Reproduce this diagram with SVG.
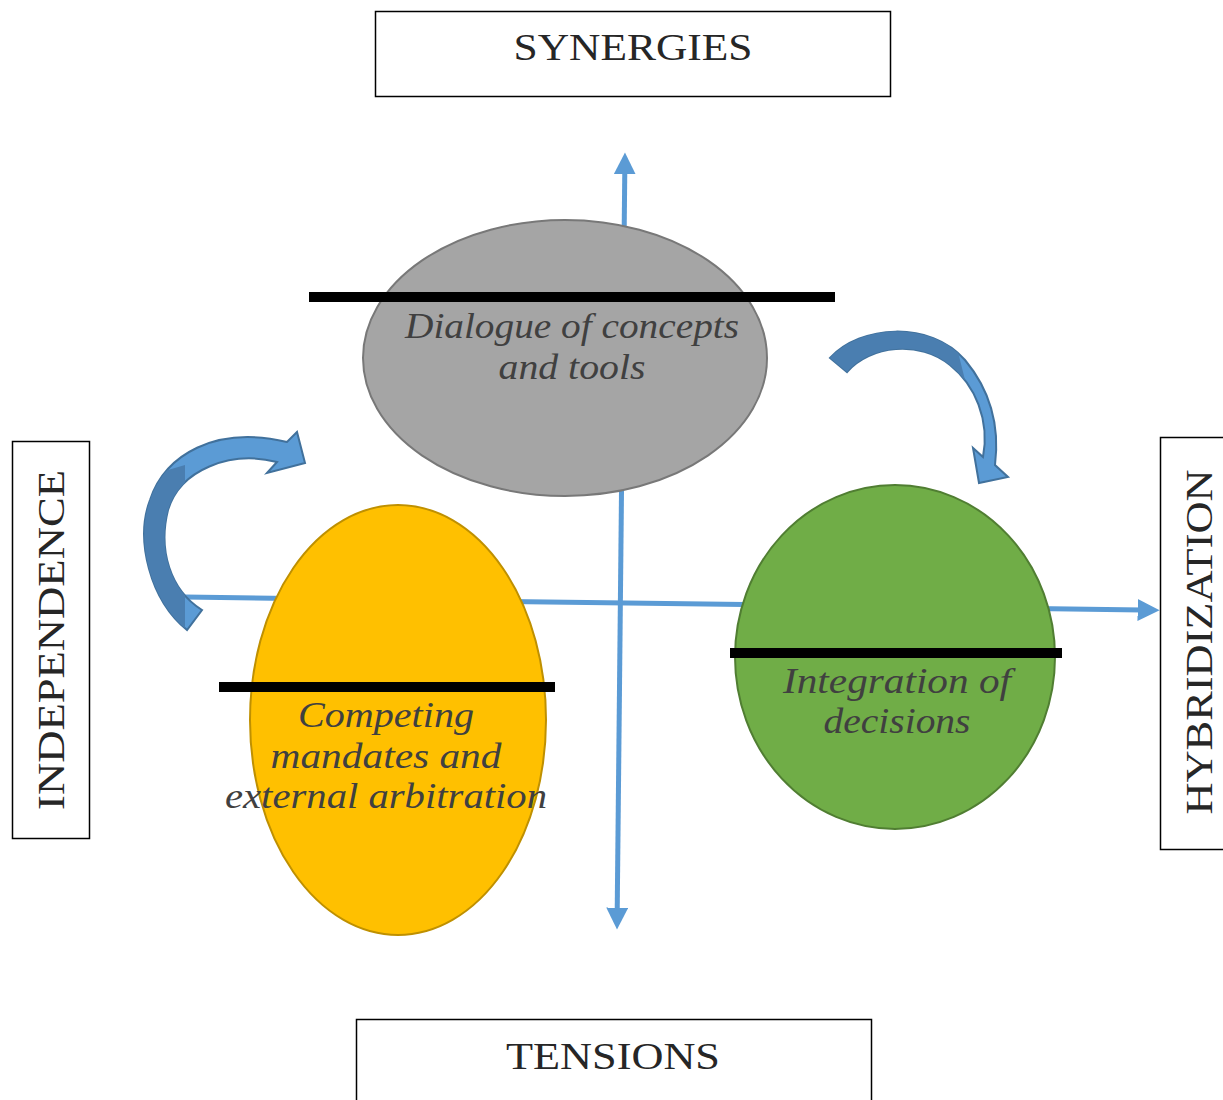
<svg xmlns="http://www.w3.org/2000/svg" width="1223" height="1100" viewBox="0 0 1223 1100">
<style>
.box{fill:#fff;stroke:#000;stroke-width:1.5}
.title{font-family:"Liberation Serif",serif;font-size:38px;fill:#262626}
.lab{font-family:"Liberation Serif",serif;font-style:italic;font-size:35px;fill:#404040;text-anchor:middle}
.axis{stroke:#5B9BD5;stroke-width:5;fill:none}
.bar{stroke:#000;stroke-width:10}
.carrow{fill:#5B9BD5;stroke:#41719C;stroke-width:2}
.cdark{fill:#4A7EB0}
</style>
<defs>
<marker id="ah" viewBox="0 0 10 10" refX="2" refY="5" markerWidth="4.4" markerHeight="4.4" orient="auto-start-reverse" markerUnits="strokeWidth">
<path d="M0,0 L10,5 L0,10 Z" fill="#5B9BD5"/>
</marker>
<path id="larrow" d="M187,630 C150,600 135,540 150,500 C165,455 215,425 287,442 L297,432 L305,463 L267,473 L277,462 C230,450 180,470 168,510 C158,550 170,590 202,610 Z"/>
<path id="rarrow" d="M830,358 C860,325 930,320 965,360 C990,390 1000,425 995,465 L1008,477 L979,483 L973,448 L983,457 C990,420 975,385 950,365 C920,340 870,345 847,372 Z"/>
<clipPath id="lclip"><path d="M100,490 L185,465 L185,700 L100,700 Z"/></clipPath>
<clipPath id="rclip"><path d="M800,300 L945,300 L965,380 L800,380 Z"/></clipPath>
</defs>

<g id="connectors">
<line class="axis" x1="617.2" y1="912" x2="624.8" y2="170" marker-start="url(#ah)" marker-end="url(#ah)"/>
<line class="axis" x1="185" y1="597" x2="1142" y2="610" marker-end="url(#ah)"/>
</g>

<g id="node-synergies">
<rect class="box" x="375.5" y="11.5" width="515" height="85"/>
<text class="title" x="633" y="60" text-anchor="middle" textLength="239" lengthAdjust="spacingAndGlyphs">SYNERGIES</text>
</g>
<g id="node-tensions">
<rect class="box" x="356.5" y="1019.5" width="515" height="90"/>
<text class="title" x="613" y="1069" text-anchor="middle" textLength="214" lengthAdjust="spacingAndGlyphs">TENSIONS</text>
</g>
<g id="node-independence">
<rect class="box" x="12.5" y="441.5" width="77" height="397"/>
<text class="title" transform="translate(64,640) rotate(-90)" x="0" y="0" text-anchor="middle" textLength="340" lengthAdjust="spacingAndGlyphs">INDEPENDENCE</text>
</g>
<g id="node-hybridization">
<rect class="box" x="1160.5" y="437.5" width="70" height="412"/>
<text class="title" transform="translate(1212,642) rotate(-90)" x="0" y="0" text-anchor="middle" textLength="345" lengthAdjust="spacingAndGlyphs">HYBRIDIZATION</text>
</g>

<g id="node-dialogue">
<ellipse cx="565" cy="358" rx="202" ry="138" fill="#A5A5A5" stroke="#787878" stroke-width="2"/>
<line class="bar" x1="309" y1="297" x2="835" y2="297"/>
<text class="lab" x="572" y="338" textLength="334" lengthAdjust="spacingAndGlyphs">Dialogue of concepts</text>
<text class="lab" x="572" y="379" textLength="147" lengthAdjust="spacingAndGlyphs">and tools</text>
</g>

<g id="node-competing">
<ellipse cx="398" cy="720" rx="148" ry="215" fill="#FFC000" stroke="#BF9000" stroke-width="2"/>
<line class="bar" x1="219" y1="687" x2="555" y2="687"/>
<text class="lab" x="386" y="727" textLength="176" lengthAdjust="spacingAndGlyphs">Competing</text>
<text class="lab" x="386" y="768" textLength="231" lengthAdjust="spacingAndGlyphs">mandates and</text>
<text class="lab" x="386" y="808" textLength="322" lengthAdjust="spacingAndGlyphs">external arbitration</text>
</g>

<g id="node-integration">
<ellipse cx="895" cy="657" rx="160" ry="172" fill="#70AD47" stroke="#507E32" stroke-width="2"/>
<line class="bar" x1="730" y1="653" x2="1062" y2="653"/>
<text class="lab" x="897" y="693" textLength="228" lengthAdjust="spacingAndGlyphs">Integration of</text>
<text class="lab" x="897" y="733" textLength="147" lengthAdjust="spacingAndGlyphs">decisions</text>
</g>

<g id="curved-arrow-left">
<use href="#larrow" class="carrow"/>
<use href="#larrow" class="cdark" clip-path="url(#lclip)"/>
</g>
<g id="curved-arrow-right">
<use href="#rarrow" class="carrow"/>
<use href="#rarrow" class="cdark" clip-path="url(#rclip)"/>
</g>
</svg>
